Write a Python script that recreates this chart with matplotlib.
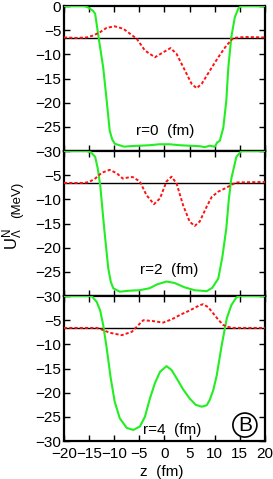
import matplotlib
matplotlib.use("Agg")
import matplotlib.pyplot as plt

plt.rcParams.update({
    "font.family": ["Liberation Sans", "DejaVu Sans"],
    "font.size": 11,
    "mathtext.fontset": "custom",
    "mathtext.rm": "Liberation Sans",
    "mathtext.it": "Liberation Sans",
})

# ── data (z in fm, U in MeV) ────────────────────────────────────────────────
EF = -6.6  # horizontal reference line

z_g0 = [-20, -16, -15.2, -14.2, -13.8, -13.1, -12.2, -11.5, -10.9, -10.4, -9.9,
        -8, -7, -5, -3, -1, 1, 3, 5, 7, 8, 9, 10, 10.5, 11.0, 11.7, 12.3,
        12.7, 13.3, 14.0, 14.7, 15.3, 20]
u_g0 = [0, 0, -0.3, -1.0, -1.6, -6.6, -12.7, -19.6, -25.8, -27.6, -28.5,
        -29.1, -29.0, -28.9, -28.8, -28.6, -28.6, -28.8, -28.9, -29.0, -29.2,
        -28.9, -29.1, -28.2, -27.9, -25.2, -19.6, -12.7, -6.4, -2.3, -0.5, 0, 0]
z_r0 = [-20, -17.5, -15.5, -14.2, -12.8, -11.5, -9.9, -8.2, -6.9, -5.5, -3.9,
        -1.9, -0.3, 1.2, 2.4, 4.1, 5.4, 6.4, 7.4, 9.0, 10.7, 12.3, 13.7, 16, 20]
u_r0 = [-6.5, -6.6, -6.5, -6.1, -5.4, -4.5, -4.2, -4.7, -5.7, -6.8, -9.2,
        -10.6, -9.6, -8.7, -9.9, -13.4, -16.1, -17.0, -16.1, -13.4, -10.6,
        -8.2, -6.6, -6.4, -6.5]

z_g2 = [-20, -15.5, -14.6, -13.8, -13.3, -12.8, -12.0, -11.2, -10.7, -10.2,
        -8.9, -7, -5, -3, -1.5, 0.4, 2, 4, 6, 8.4, 9.5, 10.7, 11.5, 12.3,
        12.8, 13.3, 14.3, 15.3, 20]
u_g2 = [0, 0, -0.3, -1.2, -3.5, -7.0, -16.0, -24.2, -27.0, -28.4,
        -29.1, -28.9, -28.8, -28.4, -27.6, -27.0, -27.3, -28.2, -28.8, -29.0,
        -28.3, -26.4, -22.0, -16.0, -10.0, -5.7, -1.2, 0, 0]
z_r2 = [-20, -16, -15, -13.8, -12.5, -10.9, -9.5, -8.3, -6.9, -6.3, -4.9,
        -3.6, -2.1, -0.9, 0.4, 1.4, 2.4, 3.7, 5.0, 6.0, 7.0, 8.4, 9.4, 10.7,
        12.3, 13.3, 14.3, 20]
u_r2 = [-6.6, -6.6, -6.4, -5.7, -4.5, -3.9, -4.6, -5.7, -5.4, -5.4, -6.3,
        -9.1, -11.0, -9.8, -6.3, -5.3, -6.7, -11.2, -14.6, -15.5, -14.6,
        -11.5, -9.5, -8.4, -7.6, -7.0, -6.5, -6.4]

z_g4 = [-20, -14.5, -13.5, -12.8, -12.2, -11.5, -10.7, -9.9, -8.9, -7.5, -6.2,
        -4.9, -3.9, -2.9, -1.9, -0.9, 0.4, 1.4, 2.4, 3.7, 5.0, 6.2, 7.4, 8.4,
        9.0, 9.7, 10.4, 11.4, 12.4, 13.3, 14.3, 15, 20]
u_g4 = [0, 0, -1.2, -3.0, -6.0, -10.8, -17.0, -21.9, -25.3, -27.3, -27.7,
        -27.0, -25.0, -21.2, -18.0, -15.7, -14.5, -15.3, -17.0, -19.3, -21.2,
        -22.5, -22.9, -22.6, -21.5, -19.5, -16.4, -10.1, -4.6, -1.9, -0.3, 0, 0]
z_r4 = [-20, -13.5, -12.8, -10.9, -8.5, -6.5, -4.9, -4.2, -2.2, -0.3, 1.5,
        3.1, 5.0, 7.0, 7.7, 8.7, 9.7, 10.7, 11.7, 12.7, 13.7, 20]
u_r4 = [-6.6, -6.6, -6.8, -7.6, -8.1, -7.4, -5.7, -5.0, -5.2, -5.5, -4.8,
        -3.9, -3.0, -1.9, -1.7, -2.3, -3.6, -4.9, -6.0, -6.4, -6.6, -6.6]

panels = [
    (z_g0, u_g0, z_r0, u_r0, "r=0  (fm)", (-5.6, -25.8)),
    (z_g2, u_g2, z_r2, u_r2, "r=2  (fm)", (-4.9, -24.6)),
    (z_g4, u_g4, z_r4, u_r4, "r=4  (fm)", (-4.2, -27.7)),
]

XTICKS = [-20, -15, -10, -5, 0, 5, 10, 15, 20]
YTICKS = [0, -5, -10, -15, -20, -25, -30]

C_GREEN = "#22ee22"
C_RED = "#ff1111"

fig = plt.figure(figsize=(2.73, 4.79), dpi=100)
left, right = 0.2344, 0.9707
bottom, h = 0.0793, 0.3027

for i, (zg, ug, zr, ur, lab, pos) in enumerate(panels):
    y0 = bottom + (2 - i) * h
    ax = fig.add_axes([left, y0, right - left, h])
    ax.axhline(EF, color="black", lw=1.0, zorder=2)
    ax.plot(zg, ug, color=C_GREEN, lw=1.5, zorder=3)
    ax.plot(zr, ur, color=C_RED, lw=1.4, ls=(0, (1.6, 1.1)), zorder=4)
    ax.set_xlim(-20, 20)
    ax.set_ylim(-30, 0)
    ax.set_xticks(XTICKS)
    ax.set_yticks(YTICKS)
    if i == 0:
        ax.set_yticklabels([f"\u2212{-t}" if t else "0" for t in YTICKS])
    else:
        ax.set_yticklabels(["" if t == 0 else f"\u2212{-t}" for t in YTICKS])
    if i == 2:
        ax.set_xticklabels([f"\u2212{-t}" if t < 0 else str(t) for t in XTICKS])
    else:
        ax.set_xticklabels([])
    ax.tick_params(which="both", direction="in", top=True, right=True,
                   length=4, width=1.0, labelsize=11)
    ax.tick_params(axis="y", pad=2)
    ax.tick_params(axis="x", pad=4)
    for sp in ax.spines.values():
        sp.set_linewidth(1.6)
    ax.text(pos[0], pos[1], lab, fontsize=11, ha="left", va="center")
    if i == 2:
        ax.text(16.0, -26.7, "B", fontsize=15, ha="center", va="center",
                bbox=dict(boxstyle="circle,pad=0.12", fc="white", ec="black", lw=1.2))

fig.text(0.048, 0.50, r"U$_\Lambda^N$", rotation=90, fontsize=12,
         ha="center", va="center")
fig.text(0.064, 0.583, "(MeV)", rotation=90, fontsize=9.5,
         ha="center", va="center")
fig.text(0.593, 0.015, "z  (fm)", fontsize=11, ha="center", va="center")

fig.savefig("out.png", dpi=100)
